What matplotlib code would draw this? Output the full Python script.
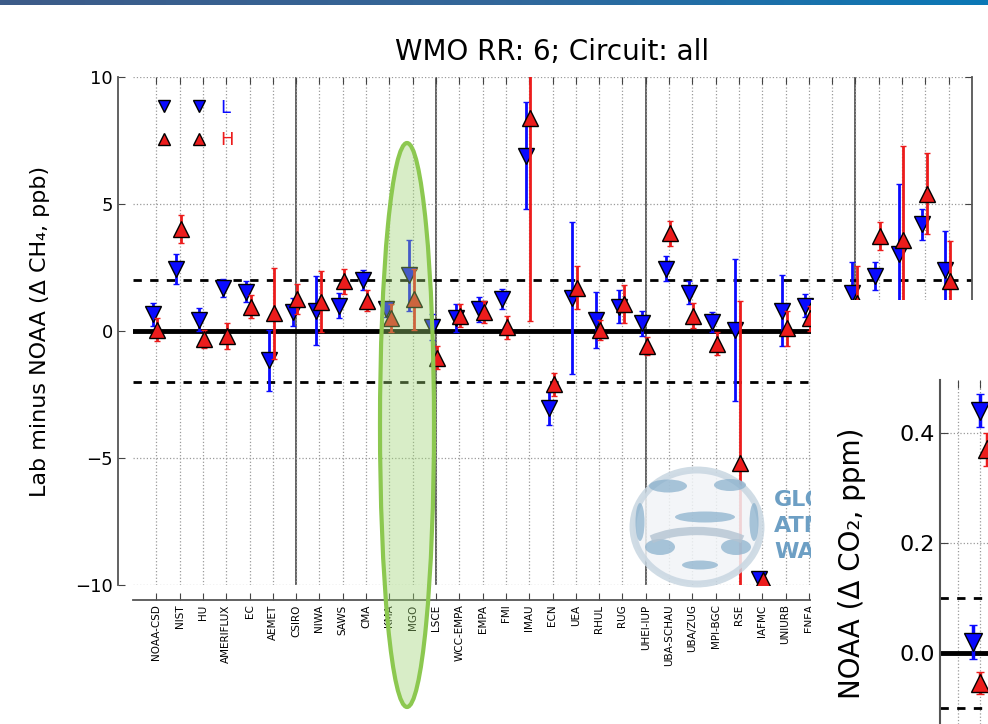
import numpy as np
import matplotlib
matplotlib.use("Agg")
import matplotlib.pyplot as plt
from matplotlib.patches import Ellipse, Arc
from matplotlib.lines import Line2D
from matplotlib.colors import LinearSegmentedColormap
from matplotlib.transforms import Bbox

# ---- data (CH4 round robin, lab minus NOAA, ppb) ----
labels = ['NOAA-CSD', 'NIST', 'HU', 'AMERIFLUX', 'EC', 'AEMET', 'CSIRO', 'NIWA',
          'SAWS', 'CMA', 'KMA', 'MGO', 'LSCE', 'WCC-EMPA', 'EMPA', 'FMI', 'IMAU',
          'ECN', 'UEA', 'RHUL', 'RUG', 'UHEI-IUP', 'UBA-SCHAU', 'UBA/ZUG',
          'MPI-BGC', 'RSE', 'IAFMC', 'UNIURB', 'ENEA', '', '', '', '', '', '']
low_val = [0.65, 2.45, 0.45, 1.7, 1.55, -1.15, 0.75, 0.8, 1.0, 2.0, 0.85, 2.2,
           0.15, 0.5, 0.85, 1.25, 6.9, -3.05, 1.3, 0.45, 0.95, 0.3, 2.45, 1.5,
           0.35, 0.05, -9.75, 0.8, 1.0, 0.6, 1.5, 2.15, 3.05, 4.2, 2.4]
low_err = [0.45, 0.6, 0.45, 0.35, 0.4, 1.2, 0.55, 1.35, 0.5, 0.4, 0.3, 1.4,
           0.5, 0.55, 0.5, 0.4, 2.1, 0.65, 3.0, 1.1, 0.65, 0.5, 0.5, 0.45,
           0.4, 2.8, 0.1, 1.4, 0.45, 0.5, 1.2, 0.55, 2.75, 0.6, 1.55]
high_val = [0.05, 4.0, -0.3, -0.2, 0.95, 0.7, 1.25, 1.15, 1.95, 1.2, 0.5, 1.25,
            -1.05, 0.6, 0.75, 0.15, 8.4, -2.1, 1.7, 0.05, 1.05, -0.6, 3.85, 0.6,
            -0.5, -5.2, -9.8, 0.1, 0.5, 0.3, 1.1, 3.75, 3.6, 5.4, 1.95]
high_err = [0.45, 0.55, 0.35, 0.5, 0.45, 1.8, 0.6, 1.2, 0.5, 0.4, 0.55, 1.2,
            0.45, 0.45, 0.45, 0.45, 8.0, 0.45, 0.85, 0.4, 0.75, 0.35, 0.5, 0.5,
            0.45, 6.4, 0.1, 0.7, 0.5, 0.5, 1.45, 0.55, 3.7, 1.6, 1.6]
circuit_breaks = [6, 12, 21, 30]

# second (CO2) panel, partly visible
co2_pos = [1.0, 1.3]
co2_low = [0.02, 0.44]
co2_low_err = [0.03, 0.03]
co2_high = [-0.055, 0.37]
co2_high_err = [0.02, 0.03]

BLUE = '#0a0aff'
RED = '#ec1c1c'

W, H = 988, 724
fig = plt.figure(figsize=(W / 100, H / 100), dpi=100)


def rect(x0, y0, x1, y1):
    # pixel box -> figure fraction
    return [x0 / W, 1 - y1 / H, (x1 - x0) / W, (y1 - y0) / H]


# ---- main axes ----
ax = fig.add_axes(rect(133, 77, 972, 585))
x = np.arange(len(labels))
ax.set_xlim(-1, len(labels))
ax.set_ylim(-10, 10)
ax.set_xticks(x)
ax.set_xticklabels(labels)
ax.set_yticks([-10, -5, 0, 5, 10])
ax.grid(True, ls=':', color='#9a9a9a', lw=0.9)
ax.tick_params(direction='in', top=True, right=True, length=5, color='#444444')
ax.tick_params(axis='y', labelsize=13)
ax.tick_params(axis='x', labelsize=7.5, labelrotation=90, pad=3)
ax.spines['left'].set_position(('outward', 11))
ax.spines['left'].set_bounds(-10, 10)
ax.spines['bottom'].set_position(('outward', 11))
ax.spines['top'].set_visible(False)
for s in ['left', 'bottom', 'right']:
    ax.spines[s].set_color('#555555')
    ax.spines[s].set_linewidth(1.3)

for b in circuit_breaks:
    ax.axvline(b, color='#555555', lw=1.3, zorder=1)
ax.axhline(0, color='k', lw=3.5, zorder=2)
ax.axhline(2, color='k', lw=2, ls=(0, (3, 3)), zorder=2)
ax.axhline(-2, color='k', lw=2, ls=(0, (3, 3)), zorder=2)

ax.errorbar(x - 0.15, low_val, yerr=low_err, fmt='v', color=BLUE, ecolor=BLUE,
            ms=12, mec='k', mew=1, elinewidth=2, capsize=2.5, zorder=4)
ax.errorbar(x + 0.05, high_val, yerr=high_err, fmt='^', color=RED, ecolor=RED,
            ms=12, mec='k', mew=1, elinewidth=2, capsize=2.5, zorder=5)

handles = [Line2D([], [], marker='v', ls='none', color=BLUE, mec='k', ms=8),
           Line2D([], [], marker='^', ls='none', color=RED, mec='k', ms=8)]
ax.legend(handles, ['L', 'H'], loc='upper left', numpoints=2, frameon=False,
          fontsize=13, handlelength=2.5, labelspacing=0.8, handletextpad=0.9,
          labelcolor=[BLUE, RED], borderaxespad=0.8, bbox_to_anchor=(0.005, 1))

ax.set_title('WMO RR: 6; Circuit: all', fontsize=20, pad=12)
ax.set_ylabel('Lab minus NOAA (Δ CH₄, ppb)', fontsize=16, labelpad=18)

# ---- overlay: header bar, highlight ellipse, logo ----
ov = fig.add_axes([0, 0, 1, 1])
ov.axis('off')
cmap = LinearSegmentedColormap.from_list('bar', ['#3d5b88', '#33679a', '#0b78b6'])
ov.imshow(np.linspace(0, 1, 256)[None, :], cmap=cmap, aspect='auto',
          extent=(0, W, 5, 0))
ov.set_xlim(0, W)
ov.set_ylim(H, 0)

ov.add_patch(Ellipse((407, 425), 54, 564, facecolor=(0.62, 0.83, 0.45, 0.4),
                     edgecolor='#8cc850', lw=3))

# GAW globe (rough)
ov.add_patch(Ellipse((697, 527), 128, 114, facecolor='#f1f4f7', edgecolor='#c8d6e1',
                     lw=5, alpha=0.85))
band = '#86aecb'
for cx, cy, w, h in [(668, 486, 38, 13), (730, 485, 32, 12), (705, 517, 60, 11),
                     (640, 522, 9, 38), (754, 522, 9, 38), (660, 547, 30, 16),
                     (736, 547, 30, 16), (700, 565, 36, 9)]:
    ov.add_patch(Ellipse((cx, cy), w, h, facecolor=band, edgecolor='none', alpha=0.7))
ov.add_patch(Arc((697, 556), 122, 50, theta1=200, theta2=340, color='#b4c4d2',
                 lw=6, alpha=0.8))
# logo text, cut by the pasted panel at x = 811 px
clip = Bbox.from_extents(0, 0, 811, H)
for yy, word in zip([500, 526, 552], ['GLO', 'ATM', 'WA']):
    t = ov.text(774, yy, word, fontsize=16, fontweight='bold', color='#6d9fc4',
                va='center', ha='left')
    t.set_clip_box(clip)

# ---- white panel with the CO2 chart on top ----
pb = fig.add_axes(rect(811, 300, 988, 724))
pb.set_facecolor('white')
pb.axis('off')
pb.add_patch(plt.Rectangle((0, 0), 1, 1, transform=pb.transAxes, color='white'))

p2 = fig.add_axes(rect(940, 380, 988, 724))
p2.set_xlim(-0.82, 1.36)
p2.set_ylim(-0.129, 0.496)
p2.set_xticks([0, 1])
p2.set_xticklabels([])
p2.set_yticks([0.0, 0.2, 0.4])
p2.set_yticklabels(['0.0', '0.2', '0.4'])
p2.grid(True, ls=':', color='#9a9a9a', lw=0.9)
p2.tick_params(direction='in', top=True, length=6, labelsize=16, color='#444444')
p2.tick_params(axis='x', bottom=False)
for s in ['top', 'right', 'bottom']:
    p2.spines[s].set_visible(False)
p2.spines['left'].set_color('#555555')
p2.spines['left'].set_linewidth(1.5)
p2.axhline(0, color='k', lw=3.5, zorder=2)
p2.axhline(0.1, color='k', lw=2, ls=(0, (3, 3)), zorder=2)
p2.axhline(-0.1, color='k', lw=2, ls=(0, (3, 3)), zorder=2)
pos = np.array(co2_pos)
p2.errorbar(pos - 0.3, co2_low, yerr=co2_low_err, fmt='v', color=BLUE, ecolor=BLUE,
            ms=13, mec='k', mew=1, elinewidth=2.5, capsize=3, zorder=4, clip_on=False)
p2.errorbar(pos, co2_high, yerr=co2_high_err, fmt='^', color=RED, ecolor=RED,
            ms=13, mec='k', mew=1, elinewidth=2.5, capsize=3, zorder=5, clip_on=False)
fig.text(852 / W, 1 - 428 / H, 'NOAA (Δ CO₂, ppm)', rotation=90,
         ha='center', va='top', fontsize=20)

fig.savefig('out.png', dpi=100)
